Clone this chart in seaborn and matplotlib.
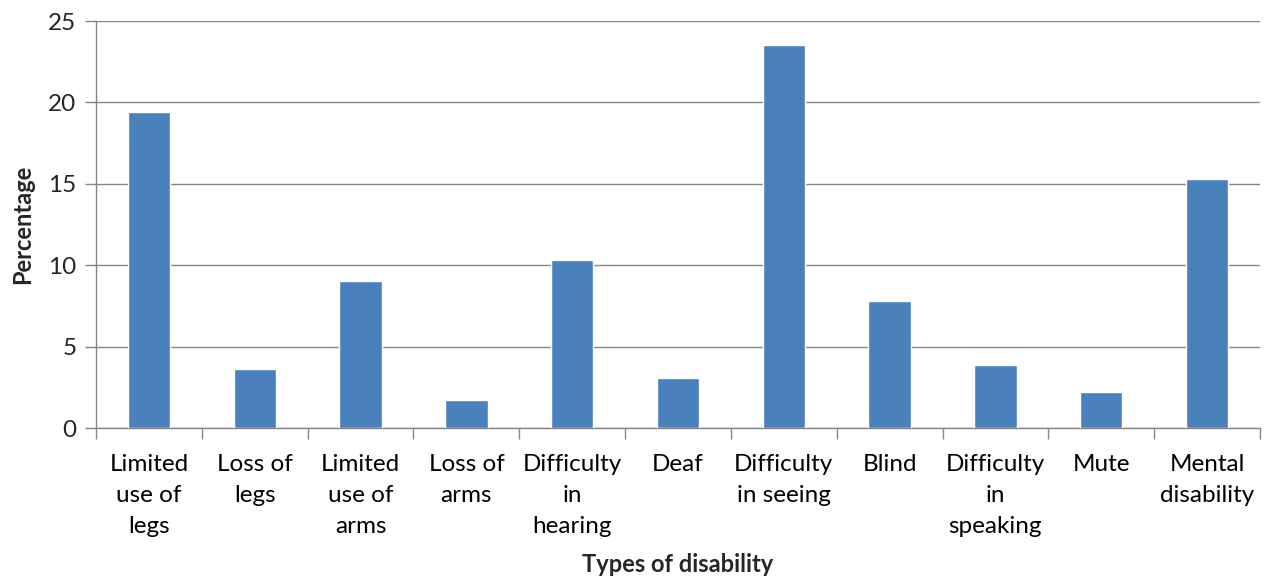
import numpy as np
import pandas as pd
import matplotlib
matplotlib.use("Agg")
import matplotlib.pyplot as plt
import seaborn as sns

categories = [
    "Limited\nuse of\nlegs", "Loss of\nlegs", "Limited\nuse of\narms", "Loss of\narms",
    "Difficulty\nin\nhearing", "Deaf", "Difficulty\nin seeing", "Blind",
    "Difficulty\nin\nspeaking", "Mute", "Mental\ndisability",
]
percentages = [19.4, 3.6, 9.0, 1.7, 10.3, 3.1, 23.5, 7.8, 3.9, 2.2, 15.3]
y_ticks = [0, 5, 10, 15, 20, 25]

df = pd.DataFrame({"type": categories, "pct": percentages})

sns.set_style("white")
plt.rcParams["font.family"] = ["Lato", "DejaVu Sans"]

fig = plt.figure(figsize=(12.64, 5.82), dpi=100)
ax = fig.add_axes([0.076, 0.2646, 0.9208, 0.6993])

grid_col = "#868686"
sns.barplot(data=df, x="type", y="pct", color="#4A81BD", saturation=1,
            width=0.4, ax=ax, zorder=3)

ax.set_xlim(-0.5, len(categories) - 0.5)
ax.set_ylim(0, 25)
ax.set_yticks(y_ticks)
ax.yaxis.grid(True, color=grid_col, linewidth=1)
ax.set_axisbelow(True)

for s in ["top", "right"]:
    ax.spines[s].set_visible(False)
for s in ["left", "bottom"]:
    ax.spines[s].set_color(grid_col)
    ax.spines[s].set_linewidth(1)

# Excel-style ticks at category boundaries
ax.set_xticks(np.arange(len(categories)), categories, linespacing=1.57, fontsize=17.5)
ax.set_xticks(np.arange(-0.5, len(categories)), minor=True)
ax.tick_params(axis="x", which="major", length=0, pad=19, labelcolor="#000000")
ax.tick_params(axis="x", which="minor", length=8, color=grid_col, width=1, bottom=True)
ax.tick_params(axis="y", length=8, color=grid_col, width=1, labelsize=17.5, pad=6, left=True)

ax.set_xlabel("Types of disability", fontsize=17, fontweight="bold", labelpad=12)
ax.set_ylabel("Percentage", fontsize=17, fontweight="bold", labelpad=10)

fig.savefig("out.png", dpi=100, facecolor="white")
plt.close(fig)
